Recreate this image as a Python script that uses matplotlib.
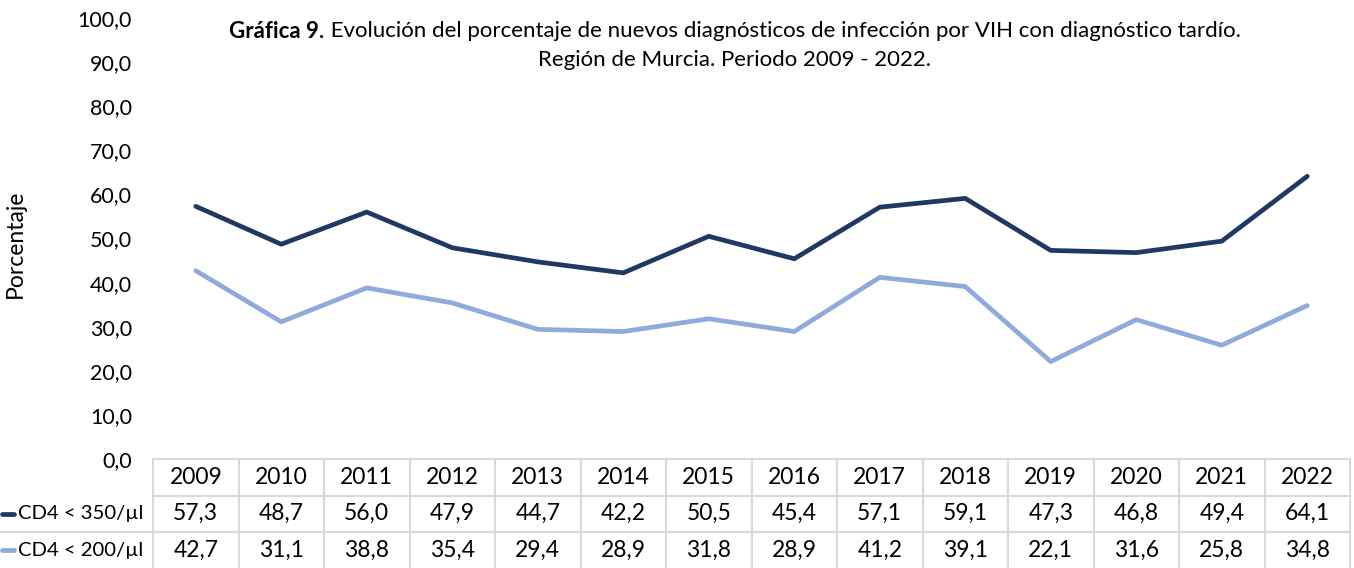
import matplotlib
matplotlib.use("Agg")
import matplotlib.pyplot as plt
from matplotlib.lines import Line2D

years = ["2009", "2010", "2011", "2012", "2013", "2014", "2015", "2016",
         "2017", "2018", "2019", "2020", "2021", "2022"]
cd4_350 = [57.3, 48.7, 56.0, 47.9, 44.7, 42.2, 50.5, 45.4, 57.1, 59.1, 47.3, 46.8, 49.4, 64.1]
cd4_200 = [42.7, 31.1, 38.8, 35.4, 29.4, 28.9, 31.8, 28.9, 41.2, 39.1, 22.1, 31.6, 25.8, 34.8]
series_names = ["CD4 < 350/µl", "CD4 < 200/µl"]
colors = ["#203864", "#8faadc"]
yticks = [0, 10, 20, 30, 40, 50, 60, 70, 80, 90, 100]

plt.rcParams['font.family'] = ['Lato', 'DejaVu Sans']

W, H = 1354, 568
fig = plt.figure(figsize=(W / 100, H / 100), dpi=100)
left, right = 153 / W, 1350 / W
bottom, top = 1 - 459 / H, 1 - 18 / H
ax = fig.add_axes([left, bottom, right - left, top - bottom])

x = list(range(len(years)))
for vals, c in zip([cd4_350, cd4_200], colors):
    ax.plot(x, vals, color=c, lw=3.4, solid_joinstyle='round', solid_capstyle='round')

ax.set_xlim(-0.5, len(years) - 0.5)
ax.set_ylim(0, 100)
ax.set_yticks(yticks)
ax.set_yticklabels([f"{v:.1f}".replace(".", ",") for v in yticks], fontsize=15.5)
ax.tick_params(axis='y', length=0, pad=15)
ax.set_xticks([])
for s in ax.spines.values():
    s.set_visible(False)

fig.text(15 / W, 1 - 244 / H, "Porcentaje", rotation=90, ha='center', va='center', fontsize=16.5)

# table
cell_text = [[f"{v:.1f}".replace(".", ",") for v in row] for row in [cd4_350, cd4_200]]
row_h = 36.5 / 441
tbl = ax.table(cellText=cell_text, colLabels=years, cellLoc='center',
               bbox=[0, -3 * row_h, 1, 3 * row_h])
tbl.auto_set_font_size(False)
for (r, c), cell in tbl.get_celld().items():
    cell.set_edgecolor("#d9d9d9")
    cell.set_linewidth(1.5)
    cell.get_text().set_fontsize(16.5)

# row labels with legend keys
for i, (name, c) in enumerate(zip(series_names, colors)):
    yc = 1 - (459 + 36.5 * (i + 1) + 18.25) / H
    fig.add_artist(Line2D([2 / W, 14 / W], [yc, yc], color=c, lw=3.4,
                          solid_capstyle='round', transform=fig.transFigure))
    fig.text(18 / W, yc, name, fontsize=14.6, ha='left', va='center')
ysep = 1 - (459 + 36.5 * 2) / H
fig.add_artist(Line2D([0, left], [ysep, ysep], color="#d9d9d9", lw=1.5,
                      transform=fig.transFigure))

# title with bold prefix
fig.canvas.draw()
r = fig.canvas.get_renderer()
y1 = 1 - 31 / H
y2 = 1 - 60 / H
cx = 735 / W
tb = fig.text(0, y1, "Gráfica 9.", fontsize=16, weight='bold', ha='left', va='center')
tn = fig.text(0, y1, " Evolución del porcentaje de nuevos diagnósticos de infección por VIH con diagnóstico tardío.",
              fontsize=16, ha='left', va='center')
wb = tb.get_window_extent(r).width / W
wn = tn.get_window_extent(r).width / W
x0 = cx - (wb + wn) / 2
tb.set_x(x0)
tn.set_x(x0 + wb)
fig.text(cx, y2, "Región de Murcia. Periodo 2009 - 2022.", fontsize=16, ha='center', va='center')

fig.savefig("out.png", dpi=100)
